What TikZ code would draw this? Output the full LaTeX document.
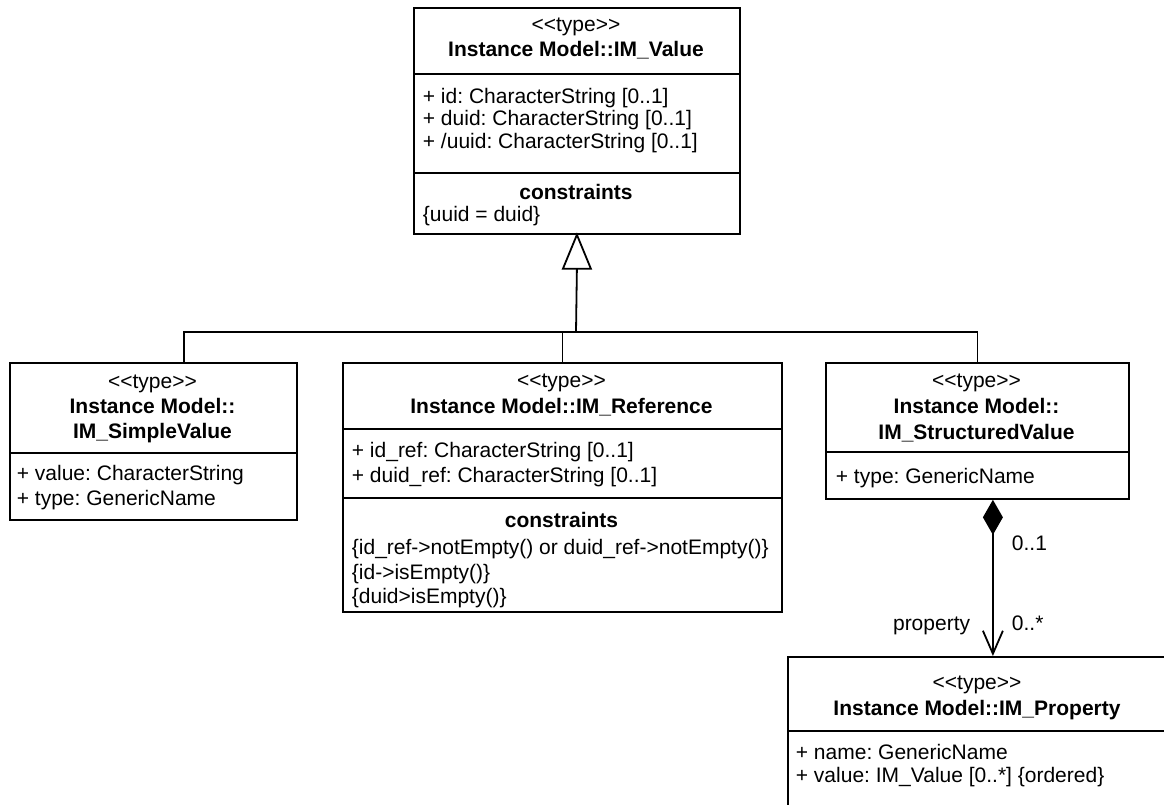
\documentclass[tikz,border=0pt]{standalone}
\usepackage{fontspec}
\setmainfont{Liberation Sans}[Ligatures=TeXOff]
\usetikzlibrary{arrows.meta}
\begin{document}
\frenchspacing
\begin{tikzpicture}[x=1pt,y=-1pt,line width=1.8pt,
  every node/.style={font=\fontsize{21pt}{24pt}\selectfont\frenchspacing, inner sep=0pt},
  umlbox/.style={draw, anchor=north west, inner sep=0pt},
  ctr/.style={anchor=base},
  lft/.style={anchor=base west},
  bld/.style={anchor=base, font=\fontsize{21pt}{24pt}\selectfont\bfseries},
  lbl/.style={anchor=base west}]
\useasboundingbox (0,0) rectangle (1164,805);
\clip (0,0) rectangle (1164,805);
\fill[white] (0,0) rectangle (1164,805);

% IM_Value
\node[umlbox, minimum width=326pt, minimum height=226pt] (val) at (413,7) {};
\draw (val.west |- 0,74) -- (val.east |- 0,74);
\draw (val.west |- 0,173) -- (val.east |- 0,173);
\node[ctr] (val1) at (576,32) {<<type>>};
\node[bld] (val2) at (576,57) {Instance Model::IM\_Value};
\node[lft] (val3) at (422,104) {+ id: CharacterString [0..1]};
\node[lft] (val4) at (422,126) {+ duid: CharacterString [0..1]};
\node[lft] (val5) at (422,149) {+ /uuid: CharacterString [0..1]};
\node[bld] (val6) at (576,200) {constraints};
\node[lft] (val7) at (422,222) {\{uuid = duid\}};

% IM_SimpleValue
\node[umlbox, minimum width=287pt, minimum height=157pt] (sv) at (9,362) {};
\draw (sv.west |- 0,453) -- (sv.east |- 0,453);
\node[ctr] (sv1) at (152.5,388) {<<type>>};
\node[bld] (sv2) at (152.5,413) {Instance Model::};
\node[bld] (sv3) at (152.5,438) {IM\_SimpleValue};
\node[lft] (sv4) at (16,480) {+ value: CharacterString};
\node[lft] (sv5) at (16,505) {+ type: GenericName};

% IM_Reference
\node[umlbox, minimum width=439pt, minimum height=249pt] (ref) at (342,362) {};
\draw (ref.west |- 0,429) -- (ref.east |- 0,429);
\draw (ref.west |- 0,498) -- (ref.east |- 0,498);
\node[ctr] (ref1) at (561.5,387) {<<type>>};
\node[bld] (ref2) at (561.5,413) {Instance Model::IM\_Reference};
\node[lft] (ref3) at (351,457) {+ id\_ref: CharacterString [0..1]};
\node[lft] (ref4) at (351,482) {+ duid\_ref: CharacterString [0..1]};
\node[bld] (ref5) at (561.5,527) {constraints};
\node[lft] (ref6) at (351,554) {\{id\_ref->notEmpty() or duid\_ref->notEmpty()\}};
\node[lft] (ref7) at (351,579) {\{id->isEmpty()\}};
\node[lft] (ref8) at (351,603) {\{duid>isEmpty()\}};

% IM_StructuredValue
\node[umlbox, minimum width=303pt, minimum height=136pt] (str) at (825,362) {};
\draw (str.west |- 0,452) -- (str.east |- 0,452);
\node[ctr] (str1) at (976.5,387) {<<type>>};
\node[bld] (str2) at (976.5,413) {Instance Model::};
\node[bld] (str3) at (976.5,439) {IM\_StructuredValue};
\node[lft] (str4) at (835,483) {+ type: GenericName};

% IM_Property
\node[umlbox, minimum width=380pt, minimum height=180pt] (prop) at (787,656) {};
\draw (prop.west |- 0,731) -- (prop.east |- 0,731);
\node[ctr] (prop1) at (977,689) {<<type>>};
\node[bld] (prop2) at (977,715) {Instance Model::IM\_Property};
\node[lft] (prop3) at (795,759) {+ name: GenericName};
\node[lft] (prop4) at (795,782) {+ value: IM\_Value [0..*] \{ordered\}};

% generalization
\coordinate (bar) at (576,332);
\draw ([xshift=30.5pt]sv.north) |- (str.north |- bar) -- (str.north);
\draw (ref.north) -- (ref.north |- bar);
\draw (bar) -- ([yshift=-34pt]val.south);
\draw[fill=white, line join=miter] (val.south) -- ++(-14,34) -- ++(28,0) -- cycle;

% composition
\coordinate (cs) at ([xshift=15.5pt]str.south);
\draw[{Diamond[length=35pt,width=20pt,fill=black]}-{Straight Barb[length=23pt,width=20pt]}] (cs) -- (cs |- prop.north);
\node[lbl] (m1) at (1011,550) {0..1};
\node[lbl] (m2) at (1011,630) {0..*};
\node[anchor=base east] (role) at (971,630) {property};
\end{tikzpicture}
\end{document}
